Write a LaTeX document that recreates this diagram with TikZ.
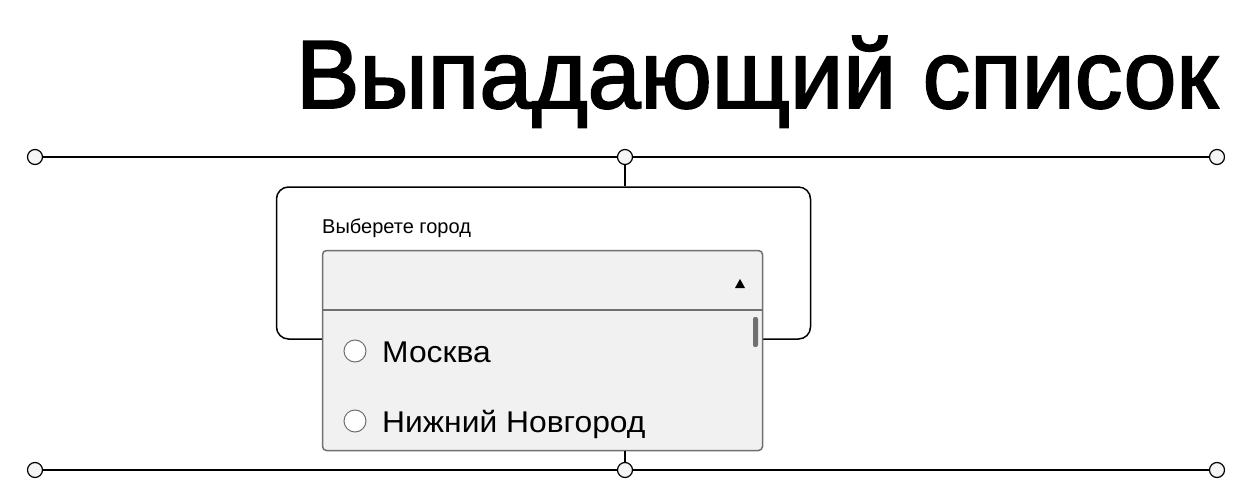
\documentclass[tikz,border=0pt]{standalone}
\usepackage{fontspec}
\setmainfont{Liberation Sans}
\newfontfamily\titlefont[FakeStretch=0.98,FakeBold=2]{Liberation Sans}
\newfontfamily\listfont[FakeStretch=1.06]{Liberation Sans}
\usetikzlibrary{positioning}
\definecolor{menufill}{HTML}{F1F1F1}
\definecolor{menuedge}{HTML}{707070}
\tikzset{
  dot/.style={circle, draw=black, fill=black!4, line width=1.2pt, minimum size=15pt, inner sep=0pt},
  rail/.style={line width=1.2pt},
  frame/.style={draw=black, line width=1.5pt, rounded corners=12pt, minimum width=534pt, minimum height=152pt, inner sep=0pt},
  menu/.style={draw=menuedge, fill=menufill, line width=1.5pt, rounded corners=4pt, minimum width=440pt, minimum height=200pt, inner sep=0pt},
  radio/.style={circle, draw=menuedge, fill=white, line width=1pt, minimum size=22pt, inner sep=0pt},
  item/.style={anchor=base west, inner sep=0pt, font=\listfont\fontsize{30}{34}\selectfont},
}
\begin{document}
\begin{tikzpicture}[x=1pt,y=-1pt]
\useasboundingbox (0,0) rectangle (1248,500);
\node[anchor=base east, inner sep=0pt, font=\titlefont\fontsize{97}{100}\selectfont] (title) at (1218,108) {Выпадающий список};
\node[dot] (tl) at (35,157) {};
\node[dot] (tm) at (625,157) {};
\node[dot] (tr) at (1217,157) {};
\node[dot] (bl) at (35,470) {};
\node[dot] (bm) at (625,470) {};
\node[dot] (br) at (1217,470) {};
\draw[rail] (tl) -- (tm) -- (tr);
\draw[rail] (bl) -- (bm) -- (br);
\node[frame] (box) at (543.5,263) {};
\draw[rail] (tm) -- (box.north -| tm);
\node[anchor=base west, inner sep=0pt, font=\fontsize{20}{22}\selectfont] (label) at (322,233) {Выберете город};
\node[menu] (list) at (542.5,350.5) {};
\draw[rail] (list.south -| bm) -- (bm);
\draw[menuedge, line width=1.5pt] ([yshift=-60pt]list.north west) -- ([yshift=-60pt]list.north east);
\fill (735,288) -- (745,288) -- (740,279) -- cycle;
\fill[menuedge, rounded corners=2pt] (753,317) rectangle (758,347);
\foreach \y/\city [count=\i] in {351/Москва, 421/Нижний Новгород}
{
  \node[radio] (r\i) at (355,\y) {};
  \node[item] (c\i) at (382,\y+11.5) {\city};
}
\end{tikzpicture}
\end{document}
